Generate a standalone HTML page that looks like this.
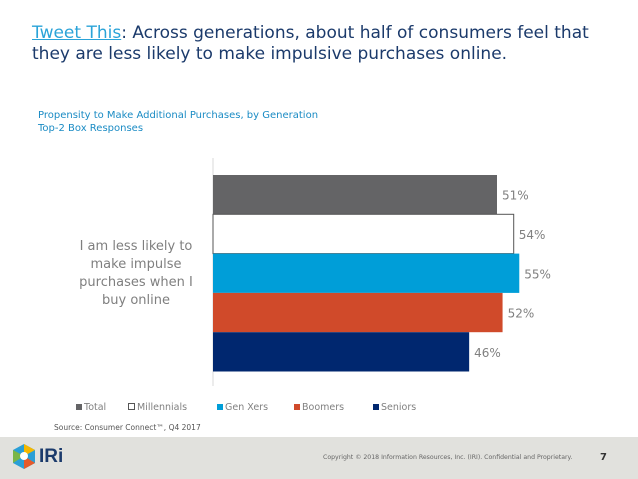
<!DOCTYPE html>
<html><head><meta charset="utf-8"><style>
body{margin:0;width:638px;height:479px;background:#fff;font-family:"DejaVu Sans","Liberation Sans",sans-serif;position:relative;overflow:hidden}
.abs{position:absolute}
</style></head><body>
<div class="abs" style="left:32px;top:23px;width:565px;font-size:17px;line-height:21px;color:#1b3a6b"><a style="color:#2aa3d8;text-decoration:underline">Tweet This</a>: Across generations, about half of consumers feel that they are less likely to make impulsive purchases online.</div>
<div class="abs" style="left:38px;top:109px;font-size:10px;line-height:13px;color:#1a8bc4">Propensity to Make Additional Purchases, by Generation<br>Top-2 Box Responses</div>
<div class="abs" style="left:70px;top:238px;width:132px;text-align:center;font-size:13px;line-height:18px;color:#7f7f7f">I am less likely to make impulse purchases when I buy online</div>
<svg class="abs" style="left:0;top:0" width="638" height="479">
<line x1="213" y1="158" x2="213" y2="386" stroke="#d9d9d9"/>
<g id="bars"></g>
</svg>
<div class="abs" style="left:76px;top:402px;font-size:9.5px;color:#808080;white-space:nowrap" id="legend"></div>
<div class="abs" style="left:54px;top:423px;font-size:7.5px;color:#555">Source: Consumer Connect™, Q4 2017</div>
<div class="abs" style="left:0;top:437px;width:638px;height:42px;background:#e1e1dd"></div>
<svg class="abs" style="left:12px;top:444px" width="24" height="26">
<polygon points="12,0 23,6 23,19 12,25 1,19 1,6" fill="#2a9fd6"/><polygon points="12,0 23,6 12,12" fill="#f5b800"/><polygon points="1,6 12,12 1,19" fill="#7ab648"/><polygon points="12,12 23,19 12,25" fill="#e55a2b"/><circle cx="12" cy="12" r="4" fill="#fff"/></svg>
<div class="abs" style="left:39px;top:446px;font-size:19px;font-weight:bold;color:#1b3a6b;font-family:'Liberation Sans',sans-serif">IRi</div>
<div class="abs" style="left:323px;top:454px;font-size:6.2px;color:#666">Copyright © 2018 Information Resources, Inc. (IRI). Confidential and Proprietary.</div>
<div class="abs" style="left:600px;top:452px;font-size:10px;font-weight:bold;color:#333">7</div>
<script>
const series=["Total","Millennials","Gen Xers","Boomers","Seniors"];
const values=[51,54,55,52,46];
const colors=["#646466","#ffffff","#009ed8","#d04a2a","#00276f"];
const x0=213,scale=284/51,top0=175,bh=39.3;
const g=document.getElementById('bars');
const ns="http://www.w3.org/2000/svg";
values.forEach((v,i)=>{
 const r=document.createElementNS(ns,'rect');
 r.setAttribute('x',x0);r.setAttribute('y',top0+i*bh);
 r.setAttribute('width',v*scale);r.setAttribute('height',bh);
 r.setAttribute('fill',colors[i]);
 if(i===1){r.setAttribute('stroke','#555');r.setAttribute('stroke-width','1');}
 
 
 g.appendChild(r);
 const t=document.createElementNS(ns,'text');
 t.setAttribute('x',x0+v*scale+5);t.setAttribute('y',top0+i*bh+bh/2+5);
 t.setAttribute('font-size','12');t.setAttribute('fill','#808080');
 t.setAttribute('font-family','DejaVu Sans, sans-serif');
 t.textContent=v+'%';
 
 
 g.appendChild(t);
});
const lg=document.getElementById('legend');
const lx=[0,52,141,218,297];
series.forEach((s,i)=>{
 const e=document.createElement('span');
 e.style.cssText='position:absolute;top:0;left:'+lx[i]+'px';
 e.innerHTML='<span style="display:inline-block;width:6px;height:6px;margin-right:2px;background:'+colors[i]+';'+(i===1?'border:1px solid #555;width:5px;height:5px;':'')+'"></span>'+s;
 
 
 lg.appendChild(e);
});
</script>
</body></html>
